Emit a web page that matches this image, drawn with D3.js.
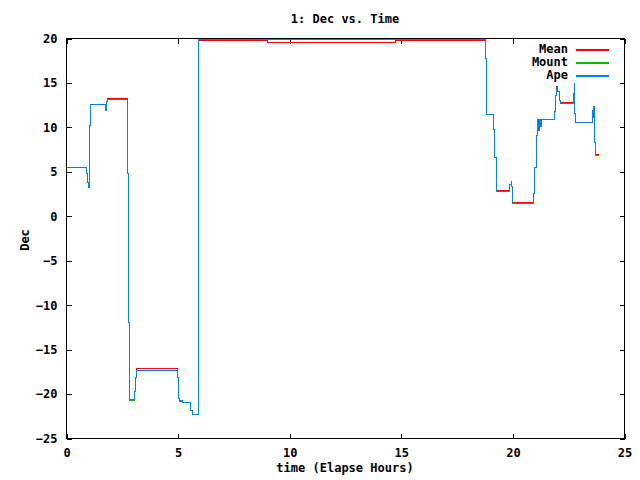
<!DOCTYPE html>
<html>
<head>
<meta charset="utf-8">
<script src="https://cdn.jsdelivr.net/npm/d3@7"></script>
<style>
body { margin: 0; background: #fff; }
text { font-family: "DejaVu Sans Mono", monospace; font-weight: bold; font-size: 12px; fill: #000; }
</style>
</head>
<body>
<svg id="svg"></svg>
<script>
var width = 640, height = 480;

// elapsed hours at each step change (shared by all three series)
var hours = [0, 0.905, 0.963, 0.977, 1.02, 1.066, 1.738, 1.80, 1.846, 2.742, 2.769, 2.814,
	3.056, 3.082, 3.127, 4.982, 5.009, 5.04, 5.085, 5.175, 5.565, 5.654, 5.905, 5.936,
	8.983, 14.718, 18.763, 18.795, 18.826, 19.14, 19.185, 19.243, 19.265, 19.839, 19.87,
	19.915, 19.928, 19.973, 20.945, 20.99, 21.035, 21.08, 21.156, 21.2, 21.236, 21.272,
	21.855, 21.918, 21.962, 22.02, 22.079, 22.124, 22.706, 22.751, 22.782, 22.827, 23.544,
	23.575, 23.602, 23.634, 23.665, 23.692, 23.871];

var mean = [5.45, 4.8, 3.8, 3.2, 10.2, 12.55, 11.9, 12.9, 13.2, 4.8, -11.9, -20.6,
	-19.7, -18.1, -17.15, -18.1, -19.7, -20.5, -20.7, -20.95, -21.9, -22.3, -1.2, 19.75,
	19.6, 19.75, 17.7, 13.6, 11.45, 9.75, 6.65, 3.95, 2.85, 3.1, 3.55,
	3.9, 3.3, 1.55, 2.6, 5.5, 9.1, 10.85, 9.65, 10.85, 10.1, 10.85,
	11.8, 13.6, 14.6, 14.05, 13.0, 12.75, 13.8, 14.9, 11.6, 10.55, 11.9,
	11.1, 12.35, 10.95, 8.25, 6.98, 6.98];

var mount = [5.45, 4.8, 3.8, 3.2, 10.2, 12.55, 11.9, 12.9, 13.1, 4.8, -11.9, -20.7,
	-19.7, -18.1, -17.3, -18.1, -19.6, -20.5, -20.8, -20.95, -21.9, -22.3, -1.2, 19.85,
	19.85, 19.85, 17.7, 13.6, 11.45, 9.75, 6.65, 3.95, 2.75, 3.1, 3.55,
	3.9, 3.3, 1.45, 2.6, 5.5, 9.1, 10.85, 9.65, 10.85, 10.1, 10.85,
	11.8, 13.6, 14.5, 14.05, 13.0, 12.65, 13.8, 14.9, 11.6, 10.55, 11.9,
	11.1, 12.35, 10.95, 8.25, 6.85, 6.85];

var ape = [5.45, 4.8, 3.8, 3.2, 10.2, 12.55, 11.9, 12.9, 13.1, 4.8, -11.9, -20.6,
	-19.7, -18.1, -17.3, -18.1, -19.7, -20.5, -20.7, -20.95, -21.9, -22.3, -1.2, 19.9,
	19.85, 19.9, 17.7, 13.6, 11.45, 9.75, 6.65, 3.95, 2.75, 3.1, 3.55,
	3.9, 3.3, 1.45, 2.6, 5.5, 9.1, 10.85, 9.65, 10.85, 10.1, 10.85,
	11.8, 13.6, 14.5, 14.05, 13.0, 12.65, 13.8, 14.9, 11.6, 10.55, 11.9,
	11.1, 12.35, 10.95, 8.25, 6.85, 6.85];

var seriesNames = ["Mean", "Mount", "Ape"];
var seriesColors = ["#ff0000", "#00c000", "#0080ff"];
var xTicks = [0, 5, 10, 15, 20, 25];
var yTicks = [-25, -20, -15, -10, -5, 0, 5, 10, 15, 20];

var svg = d3.select("#svg")
	.attr("width", width)
	.attr("height", height);

var x = d3.scaleLinear()
	.domain([0, 25])
	.range([66.5, 624.5]);

var y = d3.scaleLinear()
	.domain([-25, 20])
	.range([438.5, 38.5]);

function tidy(g)
{
	g.select(".domain").remove();
	g.selectAll(".tick line").attr("stroke", "#000").attr("shape-rendering", "crispEdges");
	g.selectAll(".tick text").attr("fill", "#000").style("font-size", "12px");
}

svg.append("g")
	.attr("transform", "translate(0," + y(-25) + ")")
	.call(d3.axisBottom(x).tickValues(xTicks).tickSize(-5).tickPadding(10).tickFormat(d3.format("d")))
	.call(tidy);
svg.append("g")
	.attr("transform", "translate(0," + y(20) + ")")
	.call(d3.axisTop(x).tickValues(xTicks).tickSize(-5).tickFormat(""))
	.call(tidy);
svg.append("g")
	.attr("transform", "translate(" + x(0) + ",0)")
	.call(d3.axisLeft(y).tickValues(yTicks).tickSize(-5).tickPadding(9).tickFormat(d3.format("d")))
	.call(tidy);
svg.append("g")
	.attr("transform", "translate(" + x(25) + ",0)")
	.call(d3.axisRight(y).tickValues(yTicks).tickSize(-5).tickFormat(""))
	.call(tidy);

var line = d3.line()
	.x(function(d) { return x(d[0]); })
	.y(function(d) { return y(d[1]); })
	.curve(d3.curveStepAfter);

[mean, mount, ape].forEach(function(vals, i)
{
	svg.append("path")
		.datum(hours.map(function(h, j) { return [h, vals[j]]; }))
		.attr("fill", "none")
		.attr("stroke", seriesColors[i])
		.attr("stroke-width", 1)
		.attr("shape-rendering", "crispEdges")
		.attr("d", line);
});

svg.append("rect")
	.attr("x", x(0)).attr("y", y(20))
	.attr("width", x(25) - x(0)).attr("height", y(-25) - y(20))
	.attr("fill", "none").attr("stroke", "#000")
	.attr("shape-rendering", "crispEdges");

// legend
seriesNames.forEach(function(name, i)
{
	var row = 49 + i * 13;
	svg.append("text")
		.attr("x", 568).attr("y", row).attr("dy", "0.35em")
		.attr("text-anchor", "end")
		.text(name);
	svg.append("rect")
		.attr("x", 576).attr("y", row)
		.attr("width", 33).attr("height", 1.5)
		.attr("shape-rendering", "crispEdges")
		.style("fill", seriesColors[i]);
});

svg.append("text")
	.attr("x", 345).attr("y", 23)
	.attr("text-anchor", "middle")
	.text("1: Dec vs. Time");
svg.append("text")
	.attr("x", 345).attr("y", 472)
	.attr("text-anchor", "middle")
	.text("time (Elapse Hours)");
svg.append("text")
	.attr("transform", "translate(29,240) rotate(-90)")
	.attr("text-anchor", "middle")
	.text("Dec");
</script>
</body>
</html>
